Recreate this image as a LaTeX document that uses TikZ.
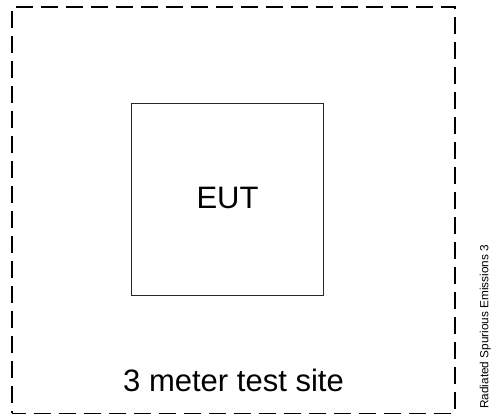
\documentclass[tikz,border=0pt]{standalone}
\usepackage{fontspec}
\setmainfont{Liberation Sans}
\begin{document}
\begin{tikzpicture}[x=1pt,y=-1pt,
 frame/.style={draw=black, line width=1.9pt, dash pattern=on 17pt off 8pt, dash phase=3pt, minimum width=442.7pt, minimum height=406.8pt, inner sep=0pt},
 eutbox/.style={draw=black!85, line width=0.9pt, minimum width=191.6pt, minimum height=191.7pt, inner sep=0pt, text depth=3.4pt, font=\fontsize{31}{37}\selectfont},
 sitelabel/.style={font=\fontsize{31}{37}\selectfont, inner sep=0pt, anchor=base},
 sidelabel/.style={font=\fontsize{11.8}{14}\selectfont, rotate=90, anchor=base west, inner sep=0pt}]
\useasboundingbox (0,0) rectangle (491,414);
\node[frame] (site) at (233.65,210.1) {};
\node[eutbox] (eut) at (227.5,199.2) {EUT};
\node[sitelabel] (sitetext) at (233.5,392) {3 meter test site};
\node[sidelabel] (side) at (488.3,409) {Radiated Spurious Emissions 3};
\end{tikzpicture}
\end{document}
